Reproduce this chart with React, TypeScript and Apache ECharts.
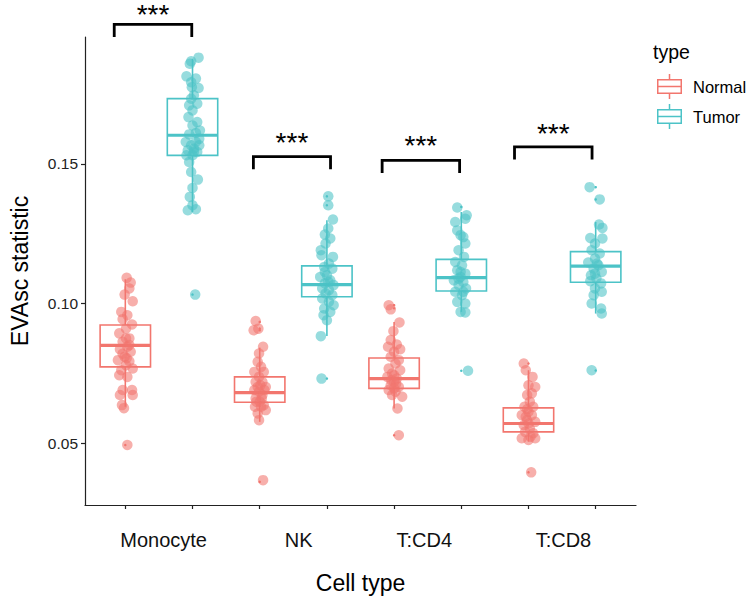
import React, { useEffect, useRef } from 'react';
import * as echarts from 'echarts';

// ---------- data ----------
const categories = ['Monocyte', 'NK', 'T:CD4', 'T:CD8'];
const types = ['Normal', 'Tumor'];
const yTicks = [0.05, 0.1, 0.15];

// [lower whisker, Q1, median, Q3, upper whisker] per category
const normalBoxes = [
  [0.063, 0.0773, 0.085, 0.0923, 0.1087],
  [0.0576, 0.0646, 0.0681, 0.0737, 0.0842],
  [0.0624, 0.0696, 0.0731, 0.0805, 0.0934],
  [0.0505, 0.054, 0.057, 0.0626, 0.0761],
];
const tumorBoxes = [
  [0.1328, 0.1531, 0.1603, 0.1734, 0.1877],
  [0.0884, 0.1024, 0.1068, 0.1135, 0.1298],
  [0.097, 0.1045, 0.1093, 0.1158, 0.1328],
  [0.0964, 0.1076, 0.1134, 0.1186, 0.1292],
];
const normalOutliers = [[0.0493], [0.0934, 0.091, 0.0904, 0.0361], [0.0994, 0.0983, 0.0528], [0.0785, 0.0395]];
const tumorOutliers = [[0.1032], [0.1384, 0.1352, 0.0731], [0.1346, 0.0759], [0.1417, 0.1373, 0.076]];

// jittered points: [jitter offset, value]
const normalPoints = [
  [[0.02,0.1092],[0.08,0.1075],[0.06,0.1054],[-0.01,0.1032],[0.11,0.1008],[-0.06,0.097],[0.03,0.0958],[-0.04,0.0944],[0.1,0.0925],[0.01,0.091],[-0.09,0.0893],[0.06,0.0875],[0.01,0.0875],[-0.04,0.0863],[0.06,0.0851],[0.03,0.0845],[-0.08,0.0836],[0.08,0.0827],[-0.04,0.082],[0.02,0.0804],[-0.01,0.0809],[-0.11,0.0797],[0.06,0.0793],[0.01,0.0779],[0.11,0.0767],[-0.06,0.0761],[-0.09,0.0743],[0.03,0.0737],[-0.04,0.069],[0.1,0.069],[-0.08,0.0672],[0.11,0.0672],[-0.05,0.0636],[-0.02,0.0625],[0.03,0.0493]],
  [[-0.06,0.0937],[-0.09,0.0904],[-0.02,0.091],[0.05,0.0845],[-0.01,0.0821],[-0.03,0.0791],[0.02,0.0773],[-0.08,0.0755],[0.06,0.0755],[-0.01,0.0737],[-0.06,0.0719],[0.04,0.0719],[0.09,0.0701],[0.01,0.0707],[-0.03,0.0701],[-0.08,0.069],[0.07,0.069],[-0.01,0.0684],[0.04,0.0672],[-0.06,0.066],[0.03,0.066],[0,0.0648],[-0.05,0.0648],[0.06,0.0636],[-0.07,0.063],[0.02,0.063],[0.09,0.0618],[-0.03,0.0606],[-0.01,0.0582],[0.05,0.0367]],
  [[-0.08,0.0994],[-0.05,0.0979],[0.08,0.0932],[-0.01,0.0901],[-0.05,0.0869],[0.04,0.0853],[-0.09,0.0845],[0.09,0.0836],[0,0.0827],[-0.05,0.0809],[0.07,0.0797],[0.02,0.0785],[-0.08,0.0767],[0.09,0.0761],[-0.03,0.0749],[0,0.0743],[-0.1,0.0737],[0.04,0.0731],[-0.04,0.0725],[0,0.0719],[0.03,0.0713],[-0.05,0.0707],[0.07,0.0701],[0,0.0696],[-0.08,0.069],[0.02,0.0684],[-0.03,0.0672],[0.12,0.0666],[0.05,0.0624],[0.07,0.0528]],
  [[-0.07,0.0785],[-0.04,0.0761],[0.06,0.0737],[0,0.0707],[0.1,0.0701],[0.05,0.0678],[-0.02,0.0672],[0.02,0.0648],[-0.06,0.063],[0.07,0.063],[-0.02,0.0621],[0,0.0612],[-0.1,0.06],[0.05,0.06],[-0.04,0.0594],[-0.02,0.0582],[0.1,0.0576],[0,0.057],[-0.07,0.0564],[0.02,0.0552],[-0.05,0.054],[0.07,0.0535],[0.03,0.0523],[-0.1,0.0517],[0.1,0.0517],[0,0.0511],[0.04,0.0395]],
];
const tumorPoints = [
  [[0.09,0.1881],[-0.02,0.1868],[-0.04,0.1859],[-0.09,0.1814],[0.05,0.1806],[-0.02,0.1793],[-0.01,0.1775],[0.09,0.1772],[0.02,0.1746],[-0.02,0.1734],[0.07,0.1716],[-0.05,0.171],[0,0.1692],[-0.06,0.1668],[0.07,0.165],[0,0.1638],[0.11,0.162],[0.05,0.1611],[-0.05,0.1606],[0.1,0.159],[-0.1,0.1579],[0.05,0.1579],[-0.02,0.1567],[0.1,0.1567],[0.02,0.1555],[-0.07,0.1549],[0.02,0.1543],[0.07,0.1543],[-0.09,0.1531],[0,0.1531],[-0.05,0.1507],[-0.02,0.1471],[0.08,0.1444],[0,0.1414],[-0.04,0.1382],[0,0.1352],[-0.07,0.1334],[0.05,0.1338],[0.04,0.1032]],
  [[0.02,0.1384],[0.02,0.1352],[0.09,0.1301],[0.02,0.1269],[-0.03,0.1247],[0.05,0.1233],[-0.02,0.1215],[-0.09,0.1191],[-0.08,0.1173],[0.09,0.1167],[0.03,0.1143],[-0.04,0.1131],[0.08,0.1125],[-0.03,0.1113],[0,0.1101],[-0.1,0.1095],[0.05,0.1083],[0.02,0.1078],[-0.03,0.1072],[0.1,0.1066],[-0.07,0.1054],[0.03,0.1048],[-0.02,0.1036],[0.08,0.103],[-0.07,0.1018],[0.03,0.1006],[0.1,0.0994],[-0.04,0.0982],[0.05,0.097],[-0.05,0.0958],[0,0.094],[-0.09,0.0883],[-0.08,0.0731]],
  [[-0.06,0.1344],[0.08,0.1316],[0.06,0.1304],[-0.09,0.1292],[-0.06,0.1262],[-0.01,0.1245],[0.03,0.1238],[0.06,0.1215],[-0.04,0.1191],[0.04,0.1167],[-0.09,0.1149],[0.01,0.1137],[-0.06,0.1119],[-0.01,0.1113],[0.06,0.1107],[-0.01,0.1095],[-0.04,0.1089],[-0.11,0.1083],[0.03,0.1077],[-0.04,0.1066],[0.07,0.1054],[0.03,0.1042],[-0.09,0.1042],[0.01,0.103],[-0.06,0.1006],[0.06,0.1],[-0.01,0.097],[0.06,0.0968],[0.1,0.0759]],
  [[-0.09,0.1417],[0.06,0.1373],[0.05,0.1283],[0.1,0.1271],[-0.08,0.1235],[0.1,0.1233],[-0.01,0.1215],[-0.06,0.1191],[0.06,0.1179],[-0.01,0.1161],[-0.11,0.1147],[0.02,0.1143],[0.04,0.1137],[-0.03,0.1125],[0.09,0.1113],[-0.01,0.1107],[-0.07,0.1101],[0.01,0.109],[-0.08,0.108],[0.08,0.1072],[-0.01,0.1054],[0.09,0.1042],[-0.03,0.103],[-0.06,0.1],[0.08,0.0982],[0.09,0.0964],[-0.06,0.0761]],
];

// significance brackets (x in slot units, y in data units)
const sigLabels = ['***', '***', '***', '***'];
const sigStart = [-0.165, 1.906, 3.822, 5.792];
const sigEnd = [0.989, 3.054, 4.975, 6.946];
const sigTop = [0.2, 0.1526, 0.1513, 0.1561];
const sigLeg = [0.1955, 0.1481, 0.1468, 0.1516];
const sigText = [0.2035, 0.1576, 0.1565, 0.1609];

// ---------- layout / style ----------
const FONT = "'Liberation Sans', Arial, Helvetica, sans-serif";
const COLORS = ['#F2766E', '#4CC3C7'];
const BOX_WIDTH = 0.75;
const LABEL_POS = [0.57, 2.58, 4.45, 6.52];
const SLOT_TICKS = [0, 1, 2, 3, 4, 5, 6, 7];
const LEGEND_ICON =
  'path://M11.75 0h1.5v5h-1.5Z M0 5h25v1.5h-25Z M0 18.5h25v1.5h-25Z M0 5h1.5v15h-1.5Z M23.5 5h1.5v15h-1.5Z M0 11.75h25v1.5h-25Z M11.75 20h1.5v5h-1.5Z';

function boxRenderer(color: string) {
  return (params: any, api: any) => {
    const x = api.value(0);
    const pLo = api.coord([x, api.value(1)]);
    const pQ1 = api.coord([x, api.value(2)]);
    const pMd = api.coord([x, api.value(3)]);
    const pQ3 = api.coord([x, api.value(4)]);
    const pHi = api.coord([x, api.value(5)]);
    const half = api.size([BOX_WIDTH, 0])[0] / 2;
    const cx = pMd[0];
    const st = { stroke: color, lineWidth: 1.6, fill: 'none' };
    return {
      type: 'group',
      children: [
        { type: 'line', shape: { x1: cx, y1: pHi[1], x2: cx, y2: pQ3[1] }, style: st },
        { type: 'line', shape: { x1: cx, y1: pQ1[1], x2: cx, y2: pLo[1] }, style: st },
        { type: 'rect', shape: { x: cx - half, y: pQ3[1], width: half * 2, height: pQ1[1] - pQ3[1] }, style: st },
        { type: 'line', shape: { x1: cx - half, y1: pMd[1], x2: cx + half, y2: pMd[1] }, style: { stroke: color, lineWidth: 3.2 } },
      ],
    };
  };
}

function bracketRenderer(params: any, api: any) {
  const x1 = api.value(0), x2 = api.value(1);
  const top = api.value(2), leg = api.value(3), ty = api.value(4);
  const a = api.coord([x1, leg]);
  const b = api.coord([x1, top]);
  const c = api.coord([x2, top]);
  const d = api.coord([x2, leg]);
  const t = api.coord([(x1 + x2) / 2, ty]);
  return {
    type: 'group',
    children: [
      { type: 'polyline', shape: { points: [a, b, c, d] }, style: { stroke: '#000', lineWidth: 2.8, fill: 'none', lineJoin: 'miter' } },
      { type: 'text', x: t[0], y: t[1], style: { text: sigLabels[params.dataIndex], fontSize: 28, fontFamily: FONT, fill: '#000', align: 'center', verticalAlign: 'middle' } },
    ],
  };
}

export default function App() {
  const ref = useRef<HTMLDivElement>(null);
  useEffect(() => {
    if (!ref.current) return;
    const chart = echarts.init(ref.current, undefined, { renderer: 'svg' });
    const series: any[] = [];
    const boxesByType = [normalBoxes, tumorBoxes];
    const pointsByType = [normalPoints, tumorPoints];
    const outByType = [normalOutliers, tumorOutliers];
    types.forEach((tp, t) => {
      series.push({
        name: tp,
        type: 'custom',
        renderItem: boxRenderer(COLORS[t]),
        data: boxesByType[t].map((s, i) => [2 * i + t, ...s]),
        encode: { x: 0, y: [1, 2, 3, 4, 5] },
        itemStyle: { color: COLORS[t] },
        z: 2,
      });
    });
    types.forEach((tp, t) => {
      series.push({
        name: tp,
        type: 'scatter',
        symbolSize: 2.5,
        itemStyle: { color: COLORS[t], opacity: 1 },
        data: outByType[t].flatMap((arr, i) => arr.map((v) => [2 * i + t, v])),
        z: 3,
      });
    });
    types.forEach((tp, t) => {
      series.push({
        name: tp,
        type: 'scatter',
        symbolSize: 10.5,
        itemStyle: { color: COLORS[t], opacity: 0.58 },
        data: pointsByType[t].flatMap((arr, i) => arr.map((p) => [2 * i + t + p[0], p[1]])),
        z: 4,
      });
    });
    series.push({
      name: 'significance',
      type: 'custom',
      renderItem: bracketRenderer,
      clip: false,
      data: sigStart.map((s, i) => [s, sigEnd[i], sigTop[i], sigLeg[i], sigText[i]]),
      encode: { x: [0, 1], y: [2, 3, 4] },
      z: 5,
    });

    chart.setOption({
      animation: false,
      backgroundColor: '#fff',
      textStyle: { fontFamily: FONT },
      title: {
        text: 'type',
        left: 653,
        top: 42,
        padding: 0,
        textStyle: { fontSize: 19.5, fontWeight: 'normal', color: '#000', fontFamily: FONT },
      },
      legend: {
        orient: 'vertical',
        left: 657,
        top: 74,
        padding: 0,
        itemWidth: 25,
        itemHeight: 25,
        itemGap: 5,
        selectedMode: false,
        textStyle: { fontSize: 16.5, color: '#000', fontFamily: FONT, padding: [0, 0, 0, 6] },
        itemStyle: { borderWidth: 0 },
        data: types.map((tp, t) => ({ name: tp, icon: LEGEND_ICON, itemStyle: { color: COLORS[t], opacity: 1, borderWidth: 0 } })),
      },
      grid: { left: 84, right: 114, top: 37, bottom: 97 },
      xAxis: {
        type: 'value',
        min: -0.6,
        max: 7.6,
        name: 'Cell type',
        nameLocation: 'middle',
        nameGap: 66,
        nameTextStyle: { fontSize: 23, color: '#000', fontFamily: FONT },
        splitLine: { show: false },
        axisLine: { show: true, onZero: false, lineStyle: { color: '#222', width: 1.2 } },
        axisTick: { show: true, length: 4, customValues: SLOT_TICKS, lineStyle: { color: '#222', width: 1.2 } },
        axisLabel: {
          customValues: LABEL_POS,
          formatter: (v: number) => {
            const i = LABEL_POS.findIndex((p) => Math.abs(p - v) < 1e-6);
            return i >= 0 ? categories[i] : '';
          },
          fontSize: 20,
          color: '#111',
          margin: 25,
          fontFamily: FONT,
        },
      },
      yAxis: {
        type: 'value',
        min: 0.0278,
        max: 0.1955,
        name: 'EVAsc statistic',
        nameLocation: 'middle',
        nameGap: 54,
        nameTextStyle: { fontSize: 23, color: '#000', fontFamily: FONT },
        splitLine: { show: false },
        axisLine: { show: true, onZero: false, lineStyle: { color: '#222', width: 1.2 } },
        axisTick: { show: true, length: 4, customValues: yTicks, lineStyle: { color: '#222', width: 1.2 } },
        axisLabel: {
          customValues: yTicks,
          formatter: (v: number) => v.toFixed(2),
          fontSize: 15.5,
          color: '#222',
          margin: 7,
          fontFamily: FONT,
        },
      },
      series,
    });
    return () => chart.dispose();
  }, []);
  return <div ref={ref} style={{ position: 'absolute', left: 0, top: 0, width: 750, height: 602 }} />;
}
